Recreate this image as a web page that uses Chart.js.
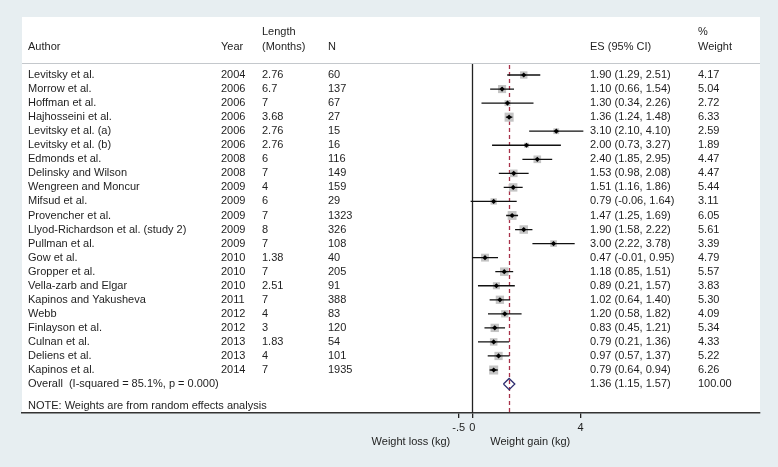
<!DOCTYPE html>
<html>
<head>
<meta charset="utf-8">
<script src="https://cdn.jsdelivr.net/npm/chart.js@4"></script>
<style>
  body { margin: 0; background: #e7eef1; }
  canvas { display: block; }
</style>
</head>
<body>
<canvas id="forest" width="778" height="467"></canvas>
<script>
// study table
const authors = [
    'Levitsky et al.', 'Morrow et al.', 'Hoffman et al.', 'Hajhosseini et al.',
    'Levitsky et al. (a)', 'Levitsky et al. (b)', 'Edmonds et al.', 'Delinsky and Wilson',
    'Wengreen and Moncur', 'Mifsud et al.', 'Provencher et al.', 'Llyod-Richardson et al. (study 2)',
    'Pullman et al.', 'Gow et al.', 'Gropper et al.', 'Vella-zarb and Elgar',
    'Kapinos and Yakusheva', 'Webb', 'Finlayson et al.', 'Culnan et al.',
    'Deliens et al.', 'Kapinos et al.'
];
const years = ['2004', '2006', '2006', '2006', '2006', '2006', '2008', '2008', '2009', '2009', '2009',
    '2009', '2009', '2010', '2010', '2010', '2011', '2012', '2012', '2013', '2013', '2014'];
const lengths = ['2.76', '6.7', '7', '3.68', '2.76', '2.76', '6', '7', '4', '6', '7',
    '8', '7', '1.38', '7', '2.51', '7', '4', '3', '1.83', '4', '7'];
const sampleSizes = ['60', '137', '67', '27', '15', '16', '116', '149', '159', '29', '1323',
    '326', '108', '40', '205', '91', '388', '83', '120', '54', '101', '1935'];
const es = [1.90, 1.10, 1.30, 1.36, 3.10, 2.00, 2.40, 1.53, 1.51, 0.79, 1.47,
    1.90, 3.00, 0.47, 1.18, 0.89, 1.02, 1.20, 0.83, 0.79, 0.97, 0.79];
const ciLow = [1.29, 0.66, 0.34, 1.24, 2.10, 0.73, 1.85, 0.98, 1.16, -0.06, 1.25,
    1.58, 2.22, -0.01, 0.85, 0.21, 0.64, 0.58, 0.45, 0.21, 0.57, 0.64];
const ciHigh = [2.51, 1.54, 2.26, 1.48, 4.10, 3.27, 2.95, 2.08, 1.86, 1.64, 1.69,
    2.22, 3.78, 0.95, 1.51, 1.57, 1.40, 1.82, 1.21, 1.36, 1.37, 0.94];
const weights = [4.17, 5.04, 2.72, 6.33, 2.59, 1.89, 4.47, 4.47, 5.44, 3.11, 6.05,
    5.61, 3.39, 4.79, 5.57, 3.83, 5.30, 4.09, 5.34, 4.33, 5.22, 6.26];

const overallLabel = 'Overall  (I-squared = 85.1%, p = 0.000)';
const overallEs = 1.36;
const overallLow = 1.15;
const overallHigh = 1.57;
const overallWeight = '100.00';
const noteText = 'NOTE: Weights are from random effects analysis';

const xTickValues = [-0.5, 0, 4];
const xTickLabels = ['-.5', '0', '4'];

const fmt = v => v.toFixed(2);
const overallRow = authors.length;

// CI segments in one line dataset, broken by null points
const ciPoints = [];
es.forEach((v, i) => {
    ciPoints.push({ x: ciLow[i], y: i });
    ciPoints.push({ x: ciHigh[i], y: i });
    ciPoints.push({ x: null, y: null });
});
const esPoints = es.map((v, i) => ({ x: v, y: i }));
const diamondHalf = 0.4;  // half height of summary diamond, in rows
const diamondPoints = [
    { x: overallLow, y: overallRow },
    { x: overallEs, y: overallRow - diamondHalf },
    { x: overallHigh, y: overallRow },
    { x: overallEs, y: overallRow + diamondHalf },
    { x: overallLow, y: overallRow }
];

const FONT = '11px "Liberation Sans", Arial, sans-serif';
const TEXT = '#1e1e1e';

const forestFrame = {
    id: 'forestFrame',
    beforeDraw(chart) {
        const { ctx, chartArea: a } = chart;
        ctx.save();
        ctx.fillStyle = '#e7eef1';
        ctx.fillRect(0, 0, chart.width, chart.height);
        ctx.fillStyle = '#ffffff';
        ctx.fillRect(a.left, a.top, a.right - a.left, a.bottom - a.top);
        // header rule
        ctx.strokeStyle = '#c4c8cc';
        ctx.lineWidth = 1.2;
        ctx.beginPath();
        ctx.moveTo(a.left, 63.5);
        ctx.lineTo(a.right, 63.5);
        ctx.stroke();
        ctx.restore();
    },
    beforeDatasetsDraw(chart) {
        const { ctx, chartArea: a, scales: { x } } = chart;
        ctx.save();
        // line of no effect
        const x0 = Math.round(x.getPixelForValue(0)) + 0.5;
        ctx.strokeStyle = '#222';
        ctx.lineWidth = 1.3;
        ctx.beginPath();
        ctx.moveTo(x0, 64);
        ctx.lineTo(x0, a.bottom);
        ctx.stroke();
        // overall effect
        const xe = Math.round(x.getPixelForValue(overallEs)) + 0.5;
        ctx.strokeStyle = '#a8324a';
        ctx.lineWidth = 1.3;
        ctx.setLineDash([4, 3]);
        ctx.beginPath();
        ctx.moveTo(xe, 65);
        ctx.lineTo(xe, a.bottom);
        ctx.stroke();
        ctx.restore();
    },
    afterDraw(chart) {
        const { ctx, scales: { x, y } } = chart;
        ctx.save();
        ctx.font = FONT;
        ctx.fillStyle = TEXT;
        ctx.textBaseline = 'middle';
        ctx.textAlign = 'left';

        // headers
        ctx.fillText('Author', 28, 46.5);
        ctx.fillText('Year', 221, 46.5);
        ctx.fillText('Length', 262, 31.5);
        ctx.fillText('(Months)', 262, 46.5);
        ctx.fillText('N', 328, 46.5);
        ctx.fillText('ES (95% CI)', 590, 46.5);
        ctx.fillText('%', 698, 31.5);
        ctx.fillText('Weight', 698, 46.5);

        authors.forEach((name, i) => {
            const py = y.getPixelForValue(i);
            ctx.fillText(name, 28, py);
            ctx.fillText(years[i], 221, py);
            ctx.fillText(lengths[i], 262, py);
            ctx.fillText(sampleSizes[i], 328, py);
            ctx.fillText(`${fmt(es[i])} (${fmt(ciLow[i])}, ${fmt(ciHigh[i])})`, 590, py);
            ctx.fillText(fmt(weights[i]), 698, py);
        });

        const po = y.getPixelForValue(overallRow);
        ctx.fillText(overallLabel, 28, po);
        ctx.fillText(`${fmt(overallEs)} (${fmt(overallLow)}, ${fmt(overallHigh)})`, 590, po);
        ctx.fillText(overallWeight, 698, po);

        ctx.fillText(noteText, 28, y.getPixelForValue(overallRow + 1.57));

        // axis direction labels
        const x0 = x.getPixelForValue(0);
        ctx.textAlign = 'right';
        ctx.fillText('Weight loss (kg)', x0 - 22, 442);
        ctx.textAlign = 'left';
        ctx.fillText('Weight gain (kg)', x0 + 18, 442);
        ctx.restore();
    }
};

new Chart(document.getElementById('forest'), {
    type: 'scatter',
    data: {
        datasets: [
            {
                label: 'Weight box',
                data: esPoints,
                pointStyle: 'rect',
                pointRadius: ctx => 2.55 * Math.sqrt(weights[ctx.dataIndex] || 0),
                backgroundColor: '#c4c4c4',
                borderWidth: 0,
                order: 3
            },
            {
                label: 'CI',
                type: 'line',
                data: ciPoints,
                borderColor: '#111',
                borderWidth: 1.3,
                pointRadius: 0,
                spanGaps: false,
                fill: false,
                order: 2
            },
            {
                label: 'ES',
                data: esPoints,
                pointStyle: 'rectRot',
                pointRadius: 2.6,
                backgroundColor: '#000',
                borderWidth: 0,
                order: 1
            },
            {
                label: 'Overall',
                type: 'line',
                data: diamondPoints,
                borderColor: '#2e2e70',
                borderWidth: 1.3,
                pointRadius: 0,
                tension: 0,
                fill: false,
                order: 1
            }
        ]
    },
    options: {
        responsive: false,
        animation: false,
        events: [],
        layout: { padding: { left: 22, right: 18, top: 17, bottom: 0 } },
        plugins: {
            legend: { display: false },
            tooltip: { enabled: false }
        },
        scales: {
            x: {
                type: 'linear',
                min: -16.62,
                max: 10.62,
                afterBuildTicks: scale => {
                    scale.ticks = xTickValues.map(v => ({ value: v }));
                },
                afterFit: scale => { scale.height = 54; },
                ticks: {
                    autoSkip: false,
                    maxRotation: 0,
                    padding: 3,
                    color: TEXT,
                    font: { family: '"Liberation Sans", Arial, sans-serif', size: 11 },
                    callback: v => xTickLabels[xTickValues.indexOf(v)]
                },
                grid: {
                    drawOnChartArea: false,
                    drawTicks: true,
                    tickLength: 5,
                    color: '#222',
                    lineWidth: 1.3
                },
                border: { display: true, color: '#333', width: 1.6 }
            },
            y: {
                type: 'linear',
                display: false,
                reverse: true,
                min: -4.13,
                max: 24.06
            }
        }
    },
    plugins: [forestFrame]
});
</script>
</body>
</html>
